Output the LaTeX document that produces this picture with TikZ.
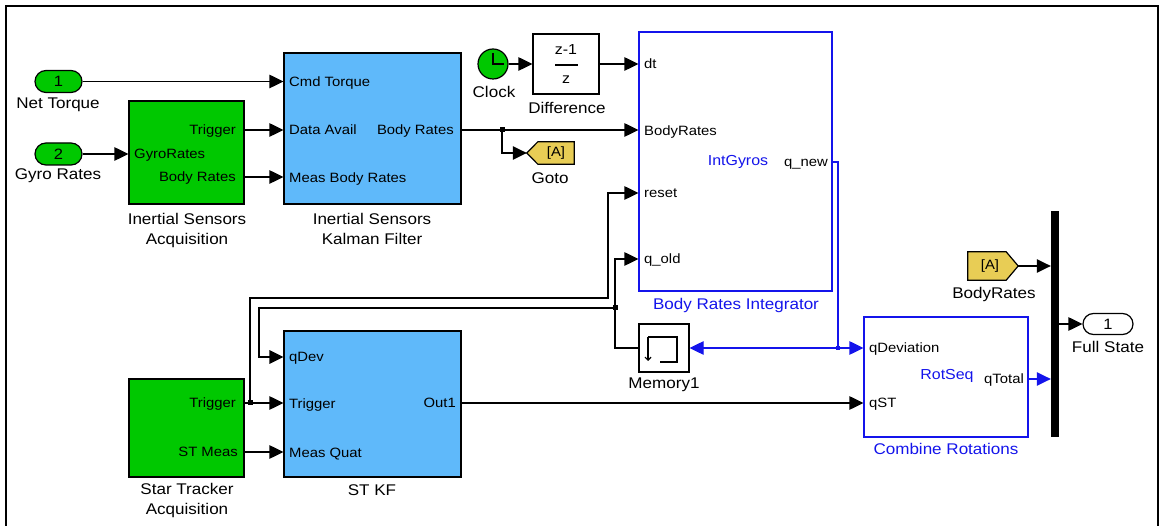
\documentclass[tikz,border=0pt]{standalone}
\usepackage{fontspec}
\setmainfont{Liberation Sans}[FakeStretch=1.1]
\usetikzlibrary{arrows.meta}
\definecolor{sgreen}{RGB}{0,200,0}
\definecolor{slblue}{RGB}{95,185,250}
\definecolor{syellow}{RGB}{232,205,85}
\definecolor{sblue}{RGB}{20,20,235}
\begin{document}
\begin{tikzpicture}[x=1pt,y=-1pt,
  font=\fontsize{13.5}{15}\selectfont,
  wire/.style={line width=1.2pt},
  arr/.style={line width=1.2pt,-{Triangle[length=14pt,width=13.5pt]}},
  bwire/.style={line width=1.2pt,draw=sblue},
  barr/.style={line width=1.2pt,draw=sblue,-{Triangle[length=14pt,width=13.5pt]},sblue},
  blk/.style={draw,line width=1.2pt,inner sep=0pt},
  lbl/.style={inner sep=0pt,align=center,font=\fontsize{15.5}{20}\selectfont},
  pl/.style={inner sep=0pt,anchor=west,text height=9.5pt,text depth=0pt},
  pr/.style={inner sep=0pt,anchor=east,text height=9.5pt,text depth=0pt},
  jdot/.style={fill,inner sep=0pt,minimum size=5pt,rectangle}]
\useasboundingbox (0,0) rectangle (1160,526);
% frame
\draw[line width=2pt] (6,526) -- (6,6) -- (1158,6) -- (1158,526);

% inports
\node[blk,fill=sgreen,rounded corners=11pt,minimum width=47pt,minimum height=22pt,font=\fontsize{15}{16}\selectfont] (in1) at (58.5,81.5) {1};
\node[lbl] (in1l) at (58,105) {Net Torque};
\node[blk,fill=sgreen,rounded corners=11pt,minimum width=47pt,minimum height=22pt,font=\fontsize{15}{16}\selectfont] (in2) at (58.5,154) {2};
\node[lbl] (in2l) at (58,176) {Gyro Rates};

% Inertial Sensors Acquisition
\node[blk,fill=sgreen,minimum width=115pt,minimum height=103pt] (isa) at (186.5,152.5) {};
\node[pr] (isatrig) at (236,130) {Trigger};
\node[pl] (isagyro) at (134,154) {GyroRates};
\node[pr] (isabr) at (236,177) {Body Rates};
\node[lbl] (isal) at (187,230) {Inertial Sensors\\Acquisition};

% Inertial Sensors Kalman Filter
\node[blk,fill=slblue,minimum width=177pt,minimum height=151pt] (iskf) at (372.5,128.5) {};
\node[pl] (kfcmd) at (289,81.5) {Cmd Torque};
\node[pl] (kfdata) at (289,130) {Data Avail};
\node[pl] (kfmeas) at (289,178) {Meas Body Rates};
\node[pr] (kfbr) at (454,130) {Body Rates};
\node[lbl] (iskfl) at (372,229) {Inertial Sensors\\Kalman Filter};

% Clock and Difference
\node[blk,fill=sgreen,circle,minimum size=30pt] (clk) at (493,64) {};
\draw[line width=1.2pt] (clk.center) ++(0,-11) -- (clk.center) -- ++(11,0);
\node[lbl] (clkl) at (494,92) {Clock};
\node[blk,minimum width=66pt,minimum height=60pt] (diff) at (566,64) {};
\node[inner sep=0pt,font=\fontsize{14.5}{16}\selectfont] (dnum) at (566,50) {z-1};
\draw[line width=1.2pt] (555,65) -- (578,65);
\node[inner sep=0pt,font=\fontsize{14.5}{16}\selectfont] (dden) at (566,80) {z};
\node[lbl] (diffl) at (567,108) {Difference};

% Goto
\node[minimum width=47pt,minimum height=22pt,inner sep=0pt] (goto) at (550.5,153) {};
\draw[blk,fill=syellow] (goto.west) -- ([xshift=11pt]goto.north west) -- (goto.north east) -- (goto.south east) -- ([xshift=11pt]goto.south west) -- cycle;
\node[inner sep=0pt] (gotot) at (556,153) {[A]};
\node[lbl] (gotol) at (550,178) {Goto};

% Body Rates Integrator
\node[blk,draw=sblue,fill=white,minimum width=193pt,minimum height=259pt] (bri) at (735.5,161.5) {};
\node[pl] (bdt) at (644,64) {dt};
\node[pl] (bbr) at (644,131) {BodyRates};
\node[pl] (brst) at (644,193) {reset};
\node[pl] (bqold) at (644,259) {q\_old};
\node[pr] (bqnew) at (828,162) {q\_new};
\node[inner sep=0pt,text=sblue,font=\fontsize{14.5}{16}\selectfont] (bint) at (738,162) {IntGyros};
\node[lbl,text=sblue] (bril) at (736,305) {Body Rates Integrator};

% Star Tracker Acquisition
\node[blk,fill=sgreen,minimum width=115pt,minimum height=98pt] (sta) at (186.5,428) {};
\node[pr] (statrig) at (236,403) {Trigger};
\node[pr] (stameas) at (238,452) {ST Meas};
\node[lbl] (stal) at (187,500) {Star Tracker\\Acquisition};

% ST KF
\node[blk,fill=slblue,minimum width=177pt,minimum height=146pt] (stkf) at (372.5,404) {};
\node[pl] (sqdev) at (289,357) {qDev};
\node[pl] (strig) at (289,404) {Trigger};
\node[pl] (smeas) at (289,453) {Meas Quat};
\node[pr] (sout) at (456,403) {Out1};
\node[lbl] (stkfl) at (372,490) {ST KF};

% Memory1
\node[blk,fill=white,minimum width=50pt,minimum height=48pt] (mem) at (664,348) {};
\draw[line width=1.2pt] ([shift={(-4,14)}]mem.center) -- ([shift={(13,14)}]mem.center) -- ([shift={(13,-11)}]mem.center) -- ([shift={(-16,-11)}]mem.center);
\draw[line width=1.2pt,-{Straight Barb[length=3pt,width=6pt]}] ([shift={(-16,-11)}]mem.center) -- ([shift={(-16,13)}]mem.center);
\node[lbl] (meml) at (664,385) {Memory1};

% Combine Rotations
\node[blk,draw=sblue,fill=white,minimum width=164pt,minimum height=120pt] (cr) at (946,377) {};
\node[pl] (cqdev) at (869,348) {qDeviation};
\node[pl] (cqst) at (869,403) {qST};
\node[pr] (cqtot) at (1024,379) {qTotal};
\node[inner sep=0pt,text=sblue,font=\fontsize{14.5}{16}\selectfont] (crs) at (947,376) {RotSeq};
\node[lbl,text=sblue] (crl) at (946,449) {Combine Rotations};

% From [A]
\node[minimum width=50pt,minimum height=28pt,inner sep=0pt] (from) at (993,266) {};
\draw[blk,fill=syellow] (from.north west) -- ([xshift=-12pt]from.north east) -- (from.east) -- ([xshift=-12pt]from.south east) -- (from.south west) -- cycle;
\node[inner sep=0pt] (fromt) at (990,266) {[A]};
\node[lbl] (froml) at (994,294) {BodyRates};

% Mux
\node[fill=black,inner sep=0pt,minimum width=8pt,minimum height=226pt] (mux) at (1055,324) {};

% Full State outport
\node[blk,fill=white,rounded corners=10.5pt,minimum width=50pt,minimum height=21pt,font=\fontsize{15}{16}\selectfont] (fs) at (1108,324) {1};
\node[lbl] (fsl) at (1108,347) {Full State};

% junctions
\coordinate (j1) at (502,130);
\coordinate (j2) at (250,403);
\coordinate (j3) at (615,308);
\coordinate (j4) at (838,348);

% connectors
\draw[arr] (in1.east) -- (in1.east -| iskf.west);
\draw[arr] (in2.east) -- (in2.east -| isa.west);
\draw[arr] (isa.east |- isatrig) -- (iskf.west |- isatrig);
\draw[arr] (isa.east |- isabr) -- (iskf.west |- isabr);
\draw[arr] (clk.east) -- (clk.east -| diff.west);
\draw[arr] (diff.east) -- (diff.east -| bri.west);
\draw[arr] (iskf.east |- kfbr) -- (bri.west |- kfbr);
\draw[arr] (j1) |- (goto.west);
\node[jdot] (j1d) at (j1) {};

\draw[arr] (sta.east |- statrig) -- (stkf.west |- statrig);
\draw[arr] (sta.east |- stameas) -- (stkf.west |- stameas);
\draw[arr] (j2) -- (250,298) -- (608,298) -- (608,193) -- (bri.west |- brst);
\node[jdot] (j2d) at (j2) {};

\draw[wire] (mem.west) -| (j3);
\draw[arr] (j3) -- (615,259) -- (bri.west |- bqold);
\draw[line width=2.6pt] (j3) -- (259,308);
\draw[line width=1.4pt,-{Triangle[length=14pt,width=13.5pt]}] (259,307) -- (259,357) -- (stkf.west |- sqdev);
\node[jdot] (j3d) at (j3) {};

\draw[bwire] (bri.east |- bqnew) -- (838,162) -- (j4);
\draw[barr] (j4) -- (cr.west |- cqdev);
\draw[barr] (j4) -- (mem.east);
\node[jdot,fill=sblue,minimum size=4pt] (j4d) at (j4) {};

\draw[arr] (stkf.east |- sout) -- (cr.west |- cqst);
\draw[barr] (cr.east |- cqtot) -- (mux.west |- cqtot);
\draw[arr] (from.east) -- (from.east -| mux.west);
\draw[arr] (mux.east) -- (fs.west);
\end{tikzpicture}
\end{document}
